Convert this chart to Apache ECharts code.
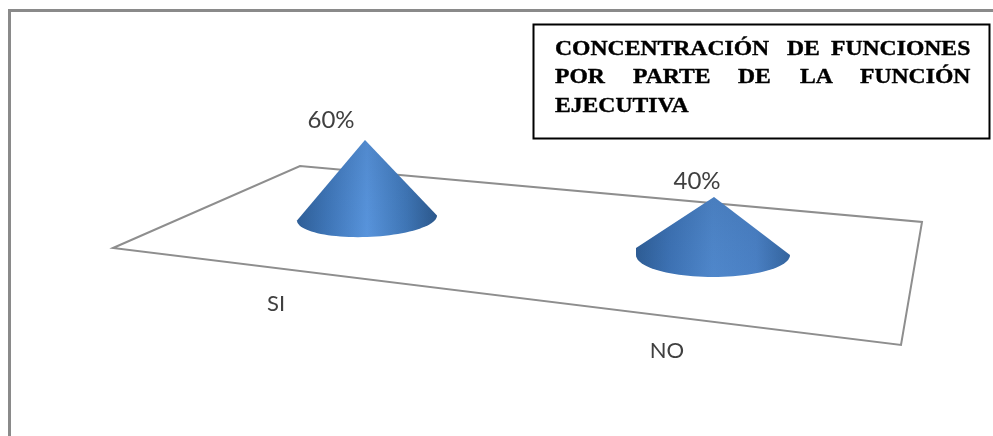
<!DOCTYPE html>
<html><head><meta charset="utf-8">
<style>html,body{margin:0;padding:0;background:#fff}#c{width:993px;height:436px}</style>
<script src="https://cdn.jsdelivr.net/npm/echarts@6/dist/echarts.min.js"></script>
</head><body><div id="c"></div>
<script>
const categories = ['SI', 'NO'];
const percentages = [60, 40];
const titleLines = [
  ['CONCENTRACIÓN', 'DE', 'FUNCIONES'],
  ['POR', 'PARTE', 'DE', 'LA', 'FUNCIÓN'],
  ['EJECUTIVA']
];
// layout only
const titleX = [[555, 787, 831], [555, 633, 738, 800, 860], [555]];
const titleY = [49, 77, 106];
const floor = [[113, 248], [300, 166], [922, 222], [901, 345]];
const baseY = [218, 255];
const baseDx = [2, -1];
const rx = [70, 77];
const ry = [19, 22];
const tilt = [-0.035, 0];
const leftLift = [0, 7];
const valueLabelDx = [-34, -17];
const valueLabelDy = [-20, -16];
const catLabelPos = [[-89, 86], [-47, 96]];
const coneStops = [
  ['#2f5f98', '#3f76b8', '#5894dc', '#3f76b6', '#2c588c'],
  ['#2e5d95', '#3d72b4', '#4f87cb', '#4a80c4', '#34659f']
];

const chart = echarts.init(document.getElementById('c'), null, {renderer: 'canvas'});

function renderCone(params, api) {
  const i = api.value(0);
  const tip = api.coord([i, api.value(1)]);
  const cx = tip[0] + baseDx[i], cy = baseY[i];
  const pts = [[tip[0], tip[1]]];
  const n = 48;
  for (let k = 0; k <= n; k++) {
    const a = Math.PI * k / n;
    const x = cx + rx[i] * Math.cos(a);
    const dx = x - cx;
    pts.push([x, cy + ry[i] * Math.sin(a) + tilt[i] * dx]);
  }
  if (leftLift[i]) {
    const last = pts[pts.length - 1];
    pts.push([last[0], last[1] - leftLift[i]]);
  }
  const c = coneStops[i];
  const grad = new echarts.graphic.LinearGradient(0, 0, 1, 0, [
    {offset: 0, color: c[0]},
    {offset: 0.22, color: c[1]},
    {offset: 0.5, color: c[2]},
    {offset: 0.78, color: c[3]},
    {offset: 1, color: c[4]}
  ]);
  const overlay = new echarts.graphic.LinearGradient(0, 0, 0, 1, [
    {offset: 0, color: 'rgba(30,60,100,0.12)'},
    {offset: 0.6, color: 'rgba(30,60,100,0.04)'},
    {offset: 1, color: 'rgba(30,60,100,0)'}
  ]);
  return {
    type: 'group',
    children: [
      {type: 'polygon', shape: {points: pts}, style: {fill: grad}},
      {type: 'polygon', shape: {points: pts}, style: {fill: overlay}},
      {type: 'text', style: {
        text: api.value(1) + '%', x: tip[0] + valueLabelDx[i], y: tip[1] + valueLabelDy[i],
        align: 'center', verticalAlign: 'middle',
        font: '24px Lato', fill: '#404040'
      }},
      {type: 'text', style: {
        text: categories[i], x: tip[0] + catLabelPos[i][0], y: baseY[i] + catLabelPos[i][1],
        align: 'center', verticalAlign: 'middle',
        font: '22px Lato', fill: '#404040'
      }}
    ]
  };
}

const titleGraphics = [];
titleLines.forEach((line, l) => line.forEach((word, w) => {
  titleGraphics.push({
    type: 'text', z: 6, x: titleX[l][w], y: titleY[l], scaleX: 1.075,
    style: {text: word, font: 'bold 22px "Liberation Serif"', fill: '#000',
      stroke: '#000', lineWidth: 0.4,
      textAlign: 'left', textVerticalAlign: 'middle'}
  });
}));

chart.setOption({
  animation: false,
  backgroundColor: '#fff',
  grid: {left: 190.5, width: 698, top: 26, height: 285},
  xAxis: {type: 'category', data: categories, show: false},
  yAxis: {type: 'value', min: 0, max: 100, show: false},
  graphic: [
    {type: 'polyline', z: 0, shape: {points: [[9.5, 436], [9.5, 10.5], [993, 10.5]]},
      style: {stroke: '#8a8a8a', lineWidth: 3, fill: null}},
    {type: 'polygon', z: 0, shape: {points: floor},
      style: {stroke: '#8e8e8e', lineWidth: 2, fill: '#fff'}},
    {type: 'rect', z: 5, shape: {x: 533.5, y: 24.5, width: 456, height: 114},
      style: {stroke: '#000', lineWidth: 2, fill: '#fff'}}
  ].concat(titleGraphics),
  series: [{
    type: 'custom', z: 3,
    renderItem: renderCone,
    data: percentages.map((v, i) => [i, v]),
    encode: {x: 0, y: 1}
  }]
});
</script></body></html>
